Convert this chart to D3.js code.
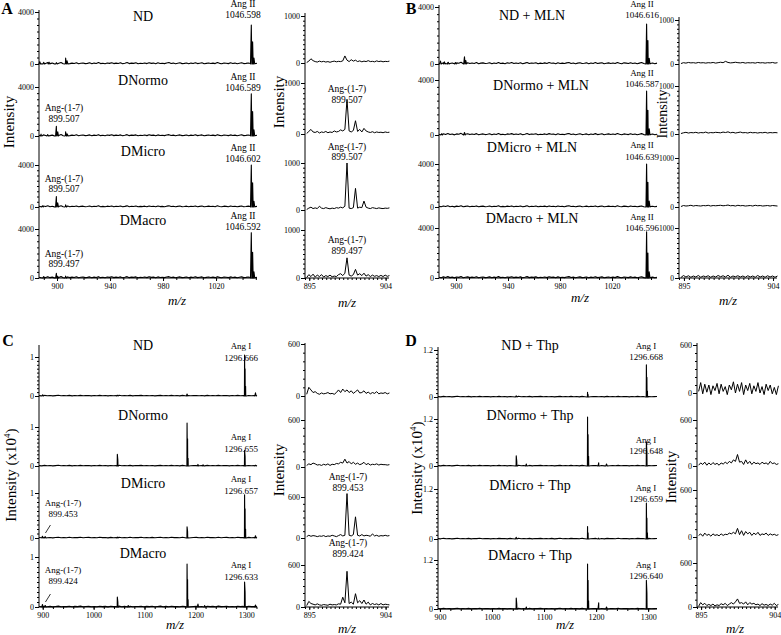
<!DOCTYPE html>
<html>
<head>
<meta charset="utf-8">
<script src="https://cdn.jsdelivr.net/npm/d3@7"></script>
<style>
  body { margin: 0; background: #fff; }
  svg text { font-family: "Liberation Serif", "Times New Roman", Times, serif; fill: #000; }
</style>
</head>
<body>
<svg id="fig" width="781" height="635"></svg>
<script>
// ---- titles and labels
const titlesA = ["ND", "DNormo", "DMicro", "DMacro"];
const titlesB = ["ND + MLN", "DNormo + MLN", "DMicro + MLN", "DMacro + MLN"];
const titlesC = ["ND", "DNormo", "DMicro", "DMacro"];
const titlesD = ["ND + Thp", "DNormo + Thp", "DMicro + Thp", "DMacro + Thp"];

const massAngIIA = ["1046.598", "1046.589", "1046.602", "1046.592"];
const massAngIIB = ["1046.616", "1046.587", "1046.639", "1046.596"];
const massAngIC = ["1296.666", "1296.655", "1296.657", "1296.633"];
const massAngID = ["1296.668", "1296.648", "1296.659", "1296.640"];
const massAng17A = [null, "899.507", "899.507", "899.497"];
const massAng17C = [null, null, "899.453", "899.424"];

const xTicksAB = [900, 940, 980, 1020];
const xTicksCD = [900, 1000, 1100, 1200, 1300];
const xTicksInset = [895, 904];

// ---- main spectra: peaks [m/z, intensity]  (A,B in counts; C,D in x10^4)
const peaksA = [
  [[887, 180], [890, 120], [894, 140], [899.5, 100], [906.5, 450], [907.5, 250], [1046.6, 3000], [1047.6, 1700], [1048.6, 450]],
  [[888, 150], [893, 120], [899.5, 800], [900.5, 350], [906.5, 350], [907.5, 180], [1046.6, 3450], [1047.6, 2000], [1048.6, 500]],
  [[889, 100], [899.5, 1000], [900.5, 400], [906.5, 200], [1046.6, 4000], [1047.6, 2300], [1048.6, 550]],
  [[890, 120], [899.5, 380], [900.5, 150], [906.5, 150], [1046.6, 3700], [1047.6, 2100], [1048.6, 500]]
];
const peaksB = [
  [[888, 200], [891, 150], [894, 120], [899.5, 100], [906.5, 500], [907.5, 250], [1046.6, 2800], [1047.6, 1650], [1048.6, 400]],
  [[889, 100], [906.5, 180], [1046.6, 3200], [1047.6, 1800], [1048.6, 450]],
  [[1046.6, 4000], [1047.6, 2300], [1048.6, 550]],
  [[1046.6, 3700], [1047.6, 2000], [1048.6, 500]]
];
const peaksC = [
  [[900, 0.03], [1046.6, 0.02], [1183.6, 0.05], [1296.6, 1.05], [1297.6, 0.7], [1298.6, 0.25], [1318, 0.08]],
  [[1046.6, 0.3], [1047.6, 0.15], [1183.6, 1.1], [1184.6, 0.7], [1185.6, 0.2], [1205, 0.04], [1215, 0.03], [1296.6, 0.4], [1297.6, 0.25], [1318, 0.02]],
  [[899.5, 0.04], [905, 0.03], [1046.6, 0.02], [1183.6, 0.25], [1184.6, 0.15], [1296.6, 0.96], [1297.6, 0.65], [1298.6, 0.2], [1318, 0.05]],
  [[899.5, 0.05], [905, 0.03], [1046.6, 0.2], [1047.6, 0.1], [1068, 0.03], [1183.6, 0.86], [1184.6, 0.55], [1185.6, 0.15], [1205, 0.06], [1218, 0.03], [1296.6, 0.5], [1297.6, 0.3], [1318, 0.04]]
];
const peaksD = [
  [[1046.6, 0.03], [1183.6, 0.12], [1184.6, 0.06], [1296.6, 0.82], [1297.6, 0.5], [1298.6, 0.15]],
  [[1046.6, 0.26], [1047.6, 0.12], [1066, 0.05], [1183.6, 1.25], [1184.6, 0.8], [1185.6, 0.25], [1205, 0.08], [1220, 0.05], [1296.6, 0.62], [1297.6, 0.35]],
  [[1046.6, 0.04], [1183.6, 0.3], [1184.6, 0.15], [1205, 0.02], [1296.6, 0.86], [1297.6, 0.5], [1298.6, 0.15]],
  [[1046.6, 0.27], [1047.6, 0.12], [1066, 0.05], [1183.6, 1.1], [1184.6, 0.7], [1185.6, 0.2], [1205, 0.15], [1220, 0.05], [1296.6, 0.7], [1297.6, 0.4]]
];

// baseline noise (evenly spaced over the m/z range)
const noiseAB = [60, 20, 90, 40, 110, 30, 70, 10, 80, 50, 120, 20, 60, 90, 30, 70, 40, 100, 20, 60,
  80, 30, 50, 90, 20, 70, 40, 110, 30, 60, 20, 80, 50, 100, 30, 70, 40, 90, 20, 60,
  110, 30, 70, 50, 90, 20, 60, 40, 80, 30, 100, 50, 70, 20, 90, 40, 60, 30, 80, 110,
  40, 70, 20, 60, 90, 30, 50, 80, 20, 70, 40, 100, 30, 60, 90, 20, 50, 80, 40, 70,
  30, 110, 50, 20, 80, 60, 30, 90, 40, 70, 20, 60, 100, 30, 50, 80, 40, 70, 20, 60];
const noiseCD = [0.010, 0.004, 0.016, 0.006, 0.012, 0.003, 0.010, 0.018, 0.005, 0.011, 0.007, 0.015, 0.004, 0.012, 0.008, 0.017, 0.005, 0.010, 0.013, 0.004,
  0.011, 0.006, 0.016, 0.008, 0.012, 0.003, 0.014, 0.007, 0.010, 0.018, 0.005, 0.012, 0.006, 0.015, 0.004, 0.011, 0.009, 0.016, 0.005, 0.012,
  0.007, 0.014, 0.004, 0.010, 0.017, 0.006, 0.012, 0.005, 0.015, 0.008, 0.011, 0.004, 0.016, 0.007, 0.012, 0.005, 0.010, 0.014, 0.006, 0.011,
  0.004, 0.015, 0.008, 0.012, 0.005, 0.017, 0.007, 0.010, 0.013, 0.004, 0.011, 0.006, 0.016, 0.008, 0.012, 0.005, 0.014, 0.007, 0.010, 0.012];

// ---- inset traces, 895-904 window, one value every 0.25 m/z from 894.7
const insetStart = 894.7, insetStep = 0.25;
const insetA = [
  [10, 40, 90, 50, 30, 20, 40, 25, 35, 20, 30, 15, 30, 40, 25, 35, 30, 45, 150, 60, 30, 70, 40, 60, 30, 45, 25, 40, 30, 50, 30, 35, 25, 45, 30, 40, 25, 35, 30, 40],
  [10, 50, 90, 40, 30, 50, 20, 40, 30, 50, 25, 40, 30, 60, 40, 50, 80, 60, 90, 680, 60, 40, 70, 260, 50, 90, 40, 110, 60, 40, 30, 45, 25, 40, 30, 35, 25, 40, 30, 35],
  [10, 40, 60, 30, 45, 30, 80, 40, 30, 50, 35, 25, 40, 30, 50, 40, 60, 45, 80, 1000, 40, 30, 50, 460, 40, 60, 50, 190, 60, 40, 30, 50, 40, 30, 45, 35, 30, 40, 35, 45],
  [10, 70, 30, 80, 20, 60, 30, 70, 20, 50, 30, 60, 25, 40, 30, 70, 90, 50, 100, 420, 60, 40, 70, 180, 60, 90, 50, 100, 40, 70, 30, 60, 35, 50, 30, 55, 30, 60, 35, 50]
];
const insetB = [
  [10, 30, 20, 35, 25, 30, 20, 35, 25, 30, 20, 30, 25, 35, 20, 30, 40, 30, 60, 35, 25, 30, 40, 30, 25, 35, 20, 30, 25, 30, 20, 35, 25, 30, 20, 30, 25, 35, 20, 30],
  [10, 25, 35, 20, 30, 25, 35, 20, 30, 25, 40, 20, 30, 25, 35, 30, 25, 40, 30, 45, 25, 35, 20, 30, 40, 25, 30, 20, 35, 25, 30, 20, 30, 25, 35, 20, 30, 25, 30, 25],
  [10, 30, 20, 25, 35, 20, 30, 25, 20, 30, 25, 35, 20, 30, 25, 30, 35, 25, 30, 40, 25, 30, 20, 35, 25, 30, 20, 25, 30, 20, 35, 25, 30, 20, 25, 30, 20, 30, 25, 20],
  [10, 50, 20, 45, 15, 40, 20, 50, 15, 40, 25, 45, 15, 40, 20, 50, 25, 45, 20, 55, 15, 40, 25, 45, 20, 40, 15, 45, 20, 40, 15, 50, 20, 40, 15, 45, 20, 40, 15, 40]
];
const insetC = [
  [20, 100, 70, 40, 50, 30, 20, 35, 25, 30, 40, 25, 30, 20, 40, 70, 40, 80, 50, 70, 40, 60, 30, 50, 70, 35, 40, 60, 30, 45, 25, 40, 30, 50, 25, 35, 30, 40, 25, 35],
  [20, 40, 30, 50, 40, 25, 30, 20, 35, 25, 40, 20, 35, 30, 45, 40, 60, 50, 100, 50, 70, 40, 60, 35, 50, 30, 40, 60, 30, 45, 25, 35, 30, 40, 25, 35, 30, 30, 25, 30],
  [20, 40, 25, 35, 30, 20, 30, 25, 35, 20, 30, 25, 40, 30, 20, 35, 50, 30, 40, 650, 40, 30, 50, 310, 40, 30, 50, 30, 40, 35, 25, 60, 30, 40, 25, 35, 30, 40, 30, 35],
  [20, 80, 50, 40, 30, 45, 30, 25, 35, 30, 25, 40, 30, 35, 30, 45, 40, 140, 60, 510, 50, 70, 40, 190, 60, 90, 50, 100, 40, 70, 30, 50, 35, 45, 30, 50, 30, 40, 35, 30]
];
const insetD = [
  [20, 130, -10, 110, 10, 100, -20, 90, 30, 120, -10, 110, 20, 80, -20, 100, 40, 140, 0, 110, 20, 130, -20, 100, 30, 120, -10, 90, 20, 130, 0, 80, -20, 110, 30, 100, -10, 70, -20, 90],
  [10, 40, 20, 50, 10, 40, 15, 45, 20, 35, 10, 40, 25, 50, 30, 60, 40, 80, 60, 150, 50, 60, 20, 80, 30, 60, 20, 50, 30, 40, 20, 50, 30, 40, 20, 60, 30, 40, 20, 30],
  [20, 40, 10, 50, 20, 35, 10, 40, 20, 30, 15, 40, 20, 35, 30, 50, 40, 60, 40, 110, 30, 80, 20, 70, 40, 60, 20, 50, 30, 60, 20, 40, 30, 50, 20, 40, 25, 35, 20, 30],
  [10, 60, 30, 50, 20, 35, 20, 40, 15, 30, 20, 45, 30, 50, 20, 40, 60, 40, 70, 110, 50, 60, 40, 70, 30, 60, 40, 50, 30, 40, 20, 45, 25, 35, 20, 40, 25, 50, 20, 35]
];

// ---- layout (pixels)
const serif = '"Liberation Serif", "Times New Roman", Times, serif';
const svg = d3.select("#fig");

const mainA = { x: [39, 257], dom: [886.4, 1050.9], zero: [64, 136, 207, 278], top: [12, 87, 165, 229], axisTop: 10,
  topVal: 4000, topLabel: "4000", minor: 500, xticks: xTicksAB, xminor: 10, noise: noiseAB, w: 0.6, fs: 8 };
const insetAcfg = { x: [305, 389], dom: [894.5, 904.4], zero: [63, 134, 210, 278], top: [16, 83, 163, 230], axisTop: 13,
  topVal: 1000, topLabel: "1000", minor: 100, xticks: xTicksInset, xminor: 0.5, fs: 8 };
const mainB = { x: [439, 657], dom: [886.9, 1054.6], zero: [64, 135, 207, 278], top: [7, 80, 164, 228], axisTop: 5,
  topVal: 4000, topLabel: "4000", minor: 500, xticks: xTicksAB, xminor: 10, noise: noiseAB, w: 0.6, fs: 8 };
const insetBcfg = { x: [679, 777], dom: [894.5, 904.4], zero: [64, 134, 207, 278], top: [20, 86, 158, 228], axisTop: 17,
  topVal: 1000, topLabel: "1000", minor: 100, xticks: xTicksInset, xminor: 0.5, fs: 7.5 };
const mainC = { x: [39, 257], dom: [892.7, 1321], zero: [396, 466, 538, 607], top: [357, 427, 493, 557], axisTop: 345,
  topVal: 1, topLabel: "1", minor: 0.1, xticks: xTicksCD, xminor: 20, noise: noiseCD, w: 1.3, fs: 8 };
const insetCcfg = { x: [305, 389], dom: [894.5, 904.4], zero: [396, 467, 538, 607], top: [344, 420, 497, 565], axisTop: 343,
  topVal: 600, topLabel: "600", minor: 100, xticks: xTicksInset, xminor: 0.5, fs: 8 };
const mainD = { x: [438, 657], dom: [896.3, 1317], zero: [397, 466, 539, 609], top: [350, 419, 489, 560], axisTop: 347,
  topVal: 1.2, topLabel: "1.2", minor: 0.1, xticks: xTicksCD, xminor: 20, noise: noiseCD, w: 1.3, fs: 8 };
const insetDcfg = { x: [697, 778], dom: [894.5, 904.4], zero: [393, 466, 537, 607], top: [345, 420, 490, 563], axisTop: 343,
  topVal: 600, topLabel: "600", minor: 100, xticks: xTicksInset, xminor: 0.5, fs: 8 };

function mainPoints(peaks, noise, dom, w) {
  const n = noise.length;
  const pts = noise.map((v, i) => [dom[0] + i * (dom[1] - dom[0]) / (n - 1), v]);
  peaks.forEach(([m, h]) => { pts.push([m - w, 0], [m, h], [m + w, 0]); });
  return pts.sort((a, b) => a[0] - b[0]);
}

function styleAxis(sel, size) {
  sel.attr("font-family", serif).attr("font-size", size);
  sel.select(".domain").remove();
}

// draws a stack of four spectra sharing one x axis, returns the x scale and y scales
function drawStack(cfg, series, isInset) {
  const x = d3.scaleLinear().domain(cfg.dom).range(cfg.x);
  const ys = [];
  const g = svg.append("g");
  series.forEach((s, k) => {
    const y = d3.scaleLinear().domain([0, cfg.topVal]).range([cfg.zero[k], cfg.top[k]]);
    ys.push(y);
    const pts = isInset ? s.map((v, i) => [insetStart + i * insetStep, v]) : mainPoints(s, cfg.noise, cfg.dom, cfg.w);
    g.append("path")
      .attr("d", d3.line().x(d => x(d[0])).y(d => y(d[1]))(pts))
      .attr("fill", "none").attr("stroke", "#000")
      .attr("stroke-width", isInset ? 1 : 1.1)
      .attr("stroke-linejoin", "round");
    g.append("g").attr("transform", `translate(${cfg.x[0]},0)`)
      .call(d3.axisLeft(y).tickValues([0, cfg.topVal]).tickSize(4).tickPadding(1)
        .tickFormat(d => d === 0 ? "0" : cfg.topLabel))
      .call(a => styleAxis(a, cfg.fs));
    g.append("g").attr("transform", `translate(${cfg.x[0]},0)`)
      .call(d3.axisLeft(y).tickValues(d3.range(cfg.minor, cfg.topVal * 1.001, cfg.minor)).tickSize(2).tickFormat(""))
      .call(a => styleAxis(a, cfg.fs));
  });
  g.append("line").attr("x1", cfg.x[0]).attr("x2", cfg.x[0])
    .attr("y1", cfg.axisTop).attr("y2", cfg.zero[3]).attr("stroke", "#000");
  const yb = cfg.zero[3];
  g.append("line").attr("x1", cfg.x[0]).attr("x2", cfg.x[1])
    .attr("y1", yb).attr("y2", yb).attr("stroke", "#000");
  g.append("g").attr("transform", `translate(0,${yb})`)
    .call(d3.axisBottom(x).tickValues(cfg.xticks).tickSize(3).tickPadding(2).tickFormat(d3.format("d")))
    .call(a => styleAxis(a, 8));
  const minorT = d3.range(Math.ceil(cfg.dom[0] / cfg.xminor) * cfg.xminor, cfg.dom[1], cfg.xminor);
  g.append("g").attr("transform", `translate(0,${yb})`)
    .call(d3.axisBottom(x).tickValues(minorT).tickSize(2).tickFormat(""))
    .call(a => styleAxis(a, 8));
  return { x, ys };
}

function label(x, y, str, size, opts) {
  const t = svg.append("text").attr("x", x).attr("y", y)
    .attr("font-size", size).attr("text-anchor", "middle")
    .attr("dominant-baseline", "central").text(str);
  if (opts && opts.italic) t.attr("font-style", "italic");
  if (opts && opts.bold) t.attr("font-weight", "bold");
  return t;
}

function vLabel(x, y, size, withUnit) {
  const t = svg.append("text").attr("transform", `translate(${x},${y}) rotate(-90)`)
    .attr("font-size", size).attr("text-anchor", "middle").attr("dominant-baseline", "central");
  if (withUnit) {
    t.append("tspan").text("Intensity (x10");
    t.append("tspan").text("4").attr("font-size", size * 0.6).attr("dy", -size * 0.3);
    t.append("tspan").text(")").attr("dy", size * 0.3);
  } else {
    t.text("Intensity");
  }
}

function twoLine(x, y1, y2, a, b, size) {
  label(x, y1, a, size);
  label(x, y2, b, size);
}

// ---------------- Panel A
drawStack(mainA, peaksA, false);
drawStack(insetAcfg, insetA, true);
label(7, 8, "A", 16, { bold: true });
const titleYA = [16, 80, 151, 220];
titlesA.forEach((t, k) => label(143, titleYA[k], t, 14));
const angYA = [[4, 15], [77, 88], [148, 159], [216, 227]];
massAngIIA.forEach((m, k) => twoLine(243, angYA[k][0], angYA[k][1], "Ang II", m, 9.5));
const a17YA = [null, [108, 119], [179, 189], [254, 264]];
massAng17A.forEach((m, k) => { if (m) twoLine(64, a17YA[k][0], a17YA[k][1], "Ang-(1-7)", m, 9.5); });
const a17InsYA = [null, [89, 100], [147, 157], [240, 251]];
massAng17A.forEach((m, k) => { if (m) twoLine(347, a17InsYA[k][0], a17InsYA[k][1], "Ang-(1-7)", m, 9.5); });
vLabel(9, 122, 15);
vLabel(279, 102, 15);
label(177, 300, "m/z", 13, { italic: true });
label(347, 302, "m/z", 13, { italic: true });

// ---------------- Panel B
drawStack(mainB, peaksB, false);
drawStack(insetBcfg, insetB, true);
label(411, 8, "B", 16, { bold: true });
const titleXB = [532, 541, 532, 532], titleYB = [15, 85, 147, 218];
titlesB.forEach((t, k) => label(titleXB[k], titleYB[k], t, 14));
const angYB = [[4, 15], [73, 84], [145, 157], [217, 228]];
massAngIIB.forEach((m, k) => twoLine(642, angYB[k][0], angYB[k][1], "Ang II", m, 9));
vLabel(662, 114, 14);
label(580, 297, "m/z", 13, { italic: true });
label(728, 300, "m/z", 13, { italic: true });

// ---------------- Panel C
const cMain = drawStack(mainC, peaksC, false);
drawStack(insetCcfg, insetC, true);
label(8, 340, "C", 16, { bold: true });
const titleYC = [345, 415, 483, 553];
titlesC.forEach((t, k) => label(143, titleYC[k], t, 14));
const angYC = [[346, 358], [437, 449], [479, 491], [565, 577]];
massAngIC.forEach((m, k) => twoLine(241, angYC[k][0], angYC[k][1], "Ang I", m, 9));
const a17YC = [null, null, [503, 514], [570, 581]];
massAng17C.forEach((m, k) => {
  if (!m) return;
  twoLine(63, a17YC[k][0], a17YC[k][1], "Ang-(1-7)", m, 9);
  const xm = cMain.x(899.5), y0 = cMain.ys[k](0);
  svg.append("line").attr("x1", xm + 8).attr("y1", y0 - 13).attr("x2", xm + 3).attr("y2", y0 - 5)
    .attr("stroke", "#000").attr("stroke-width", 0.8);
});
const a17InsYC = [null, null, [477, 488], [543, 554]];
massAng17C.forEach((m, k) => { if (m) twoLine(348, a17InsYC[k][0], a17InsYC[k][1], "Ang-(1-7)", m, 9.5); });
vLabel(11, 475, 15, true);
vLabel(279, 470, 15);
label(175, 624, "m/z", 13, { italic: true });
label(347, 628, "m/z", 13, { italic: true });

// ---------------- Panel D
drawStack(mainD, peaksD, false);
drawStack(insetDcfg, insetD, true);
label(411, 340, "D", 16, { bold: true });
const titleYD = [345, 415, 485, 555];
titlesD.forEach((t, k) => label(530, titleYD[k], t, 14));
const angYD = [[346, 357], [440, 451], [488, 499], [565, 576]];
massAngID.forEach((m, k) => twoLine(646, angYD[k][0], angYD[k][1], "Ang I", m, 9));
vLabel(417, 468, 15, true);
vLabel(671, 477, 15);
label(565, 624, "m/z", 13, { italic: true });
label(735, 628, "m/z", 13, { italic: true });
</script>
</body>
</html>
